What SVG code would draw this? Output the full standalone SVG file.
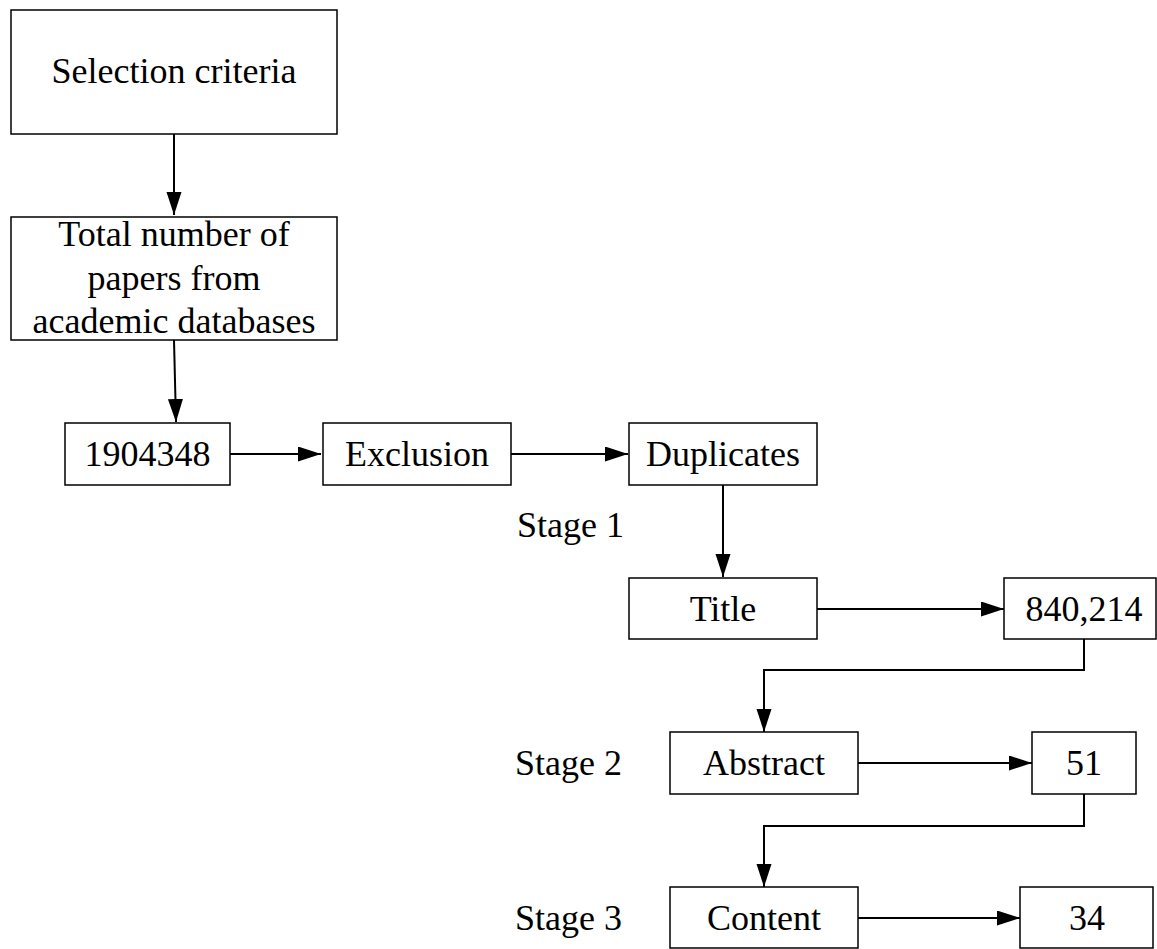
<svg xmlns="http://www.w3.org/2000/svg" width="1157" height="949" viewBox="0 0 1157 949">
  <style>
    .box { fill: #ffffff; stroke: #000000; stroke-width: 1.5; }
    .lbl { font-family: "Liberation Serif", "Times New Roman", serif; font-size: 36px; fill: #000000; }
    .mid { text-anchor: middle; }
    .edge { fill: none; stroke: #000000; stroke-width: 2; }
  </style>
  <defs>
    <marker id="arrow" markerUnits="userSpaceOnUse" markerWidth="24" markerHeight="16" refX="23" refY="7.5" orient="auto">
      <path d="M0,0 L23,7.5 L0,15 Z" fill="#000000"/>
    </marker>
  </defs>
  <rect width="1157" height="949" fill="#ffffff"/>

  <!-- connectors -->
  <g id="connectors">
    <path class="edge" d="M174,134 L174,215" marker-end="url(#arrow)"/>
    <path class="edge" d="M174,340 L176,422" marker-end="url(#arrow)"/>
    <path class="edge" d="M230,454 L321,454" marker-end="url(#arrow)"/>
    <path class="edge" d="M511,454 L628,454" marker-end="url(#arrow)"/>
    <path class="edge" d="M723,484 L723,577" marker-end="url(#arrow)"/>
    <path class="edge" d="M817,609 L1004,609" marker-end="url(#arrow)"/>
    <path class="edge" d="M1084,639 L1084,670 L764,670 L764,732" marker-end="url(#arrow)"/>
    <path class="edge" d="M858,763 L1032,763" marker-end="url(#arrow)"/>
    <path class="edge" d="M1084,794 L1084,826 L764,826 L764,887" marker-end="url(#arrow)"/>
    <path class="edge" d="M858,918 L1020,918" marker-end="url(#arrow)"/>
  </g>

  <g id="selection-criteria">
    <rect class="box" x="11" y="10" width="326" height="124"/>
    <text class="lbl mid" x="174" y="83">Selection criteria</text>
  </g>

  <g id="total-papers">
    <rect class="box" x="11" y="217" width="326" height="123"/>
    <text class="lbl mid" x="174" y="246">Total number of</text>
    <text class="lbl mid" x="174" y="289.5">papers from</text>
    <text class="lbl mid" x="174" y="333">academic databases</text>
  </g>

  <g id="count-all">
    <rect class="box" x="65" y="423" width="165" height="62"/>
    <text class="lbl mid" x="147.5" y="466">1904348</text>
  </g>

  <g id="exclusion">
    <rect class="box" x="323" y="423" width="188" height="62"/>
    <text class="lbl mid" x="417" y="466">Exclusion</text>
  </g>

  <g id="duplicates">
    <rect class="box" x="629" y="423" width="188" height="62"/>
    <text class="lbl mid" x="723" y="466">Duplicates</text>
  </g>

  <g id="stage-1">
    <text class="lbl" x="517" y="537">Stage 1</text>
  </g>

  <g id="title">
    <rect class="box" x="629" y="578" width="188" height="61"/>
    <text class="lbl mid" x="723" y="621">Title</text>
  </g>

  <g id="count-title">
    <rect class="box" x="1004" y="578" width="152" height="61"/>
    <text class="lbl mid" x="1084" y="621">840,214</text>
  </g>

  <g id="stage-2">
    <text class="lbl" x="515" y="775">Stage 2</text>
  </g>

  <g id="abstract">
    <rect class="box" x="670" y="732" width="188" height="62"/>
    <text class="lbl mid" x="764" y="775">Abstract</text>
  </g>

  <g id="count-abstract">
    <rect class="box" x="1032" y="732" width="104" height="62"/>
    <text class="lbl mid" x="1084" y="775">51</text>
  </g>

  <g id="stage-3">
    <text class="lbl" x="515" y="930">Stage 3</text>
  </g>

  <g id="content">
    <rect class="box" x="670" y="887" width="188" height="61"/>
    <text class="lbl mid" x="764" y="930">Content</text>
  </g>

  <g id="count-content">
    <rect class="box" x="1020" y="887" width="133" height="61"/>
    <text class="lbl mid" x="1087" y="930">34</text>
  </g>
</svg>
